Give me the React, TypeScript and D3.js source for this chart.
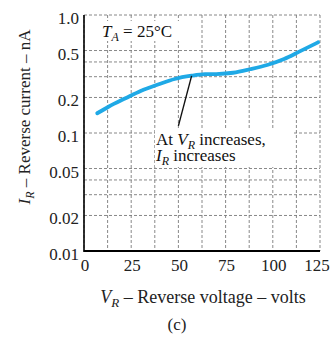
import React from "react";
import * as d3 from "d3";

// reverse voltage (V) vs reverse current (nA)
const voltage = [7, 13, 22, 30, 40, 48, 57, 64, 70, 79, 88, 97, 106, 114, 124];
const current = [0.147, 0.167, 0.197, 0.227, 0.26, 0.287, 0.306, 0.315, 0.316, 0.324, 0.347, 0.377, 0.424, 0.489, 0.587];

const xTicks = [0, 25, 50, 75, 100, 125];
const xGrid = [0, 12.5, 25, 37.5, 50, 62.5, 75, 87.5, 100, 112.5, 125];
const yTicks = [1, 0.5, 0.2, 0.1, 0.05, 0.02, 0.01];
const yTickLabels = ["1.0", "0.5", "0.2", "0.1", "0.05", "0.02", "0.01"];
const yGrid = [1, 0.5, 0.4, 0.3, 0.2, 0.1, 0.05, 0.04, 0.03, 0.02];

// leader line of the note: from the curve down to the text
const noteFrom = [57, 0.305];
const noteTo = [50, 0.115];

const W = 332;
const H = 338;
const FONT = "'Liberation Serif', 'Times New Roman', serif";

export default function App() {
  const x = d3.scaleLinear().domain([0, 125]).range([84, 320]);
  const y = d3.scaleLog().domain([0.01, 1]).range([251, 15]);

  const pts = voltage.map((v, i) => [v, current[i]] as [number, number]);
  const line = d3
    .line<[number, number]>()
    .x((d) => x(d[0]))
    .y((d) => y(d[1]))
    .curve(d3.curveMonotoneX);

  const grid = "#7a7a7a";

  return (
    <svg
      width={W}
      height={H}
      style={{ position: "absolute", left: 0, top: 0, background: "#fff" }}
      fontFamily={FONT}
    >
      {/* grid */}
      <g stroke={grid} strokeWidth={0.9} strokeDasharray="3,2">
        {xGrid.map((v) => (
          <line key={"gx" + v} x1={x(v)} x2={x(v)} y1={y(1)} y2={y(0.01)} />
        ))}
        {yGrid.map((v) => (
          <line key={"gy" + v} x1={x(0)} x2={x(125)} y1={y(v)} y2={y(v)} />
        ))}
      </g>

      {/* white boxes behind notes */}
      <rect x={100} y={21} width={82} height={20} fill="#fff" />
      <rect x={155} y={128} width={139} height={39} fill="#fff" />

      {/* axes */}
      <line x1={x(0)} x2={x(0)} y1={y(1)} y2={y(0.01) + 1} stroke="#000" strokeWidth={1.6} />
      <line x1={x(0)} x2={x(125)} y1={y(0.01)} y2={y(0.01)} stroke="#000" strokeWidth={2} />

      {/* curve */}
      <path d={line(pts) ?? ""} fill="none" stroke="#1FA9E6" strokeWidth={3.8} strokeLinecap="round" />

      {/* leader line */}
      <line
        x1={x(noteFrom[0])}
        y1={y(noteFrom[1])}
        x2={x(noteTo[0])}
        y2={y(noteTo[1])}
        stroke="#111"
        strokeWidth={1.4}
      />

      {/* tick labels */}
      <g fontSize={17} fill="#222">
        {yTicks.map((v, i) => (
          <text key={"yt" + v} x={79} y={y(v) + 9} textAnchor="end">
            {yTickLabels[i]}
          </text>
        ))}
        {xTicks.map((v) => (
          <text key={"xt" + v} x={Math.min(x(v) + 1, 317)} y={271} textAnchor="middle">
            {v}
          </text>
        ))}
      </g>

      {/* notes */}
      <text x={102} y={37} fontSize={17} fill="#111">
        <tspan fontStyle="italic">T</tspan>
        <tspan fontStyle="italic" fontSize={12} dy={4}>A</tspan>
        <tspan dy={-4}> = 25°C</tspan>
      </text>
      <text x={156} y={145} fontSize={17} fill="#111">
        At <tspan fontStyle="italic">V</tspan>
        <tspan fontStyle="italic" fontSize={12} dy={4}>R</tspan>
        <tspan dy={-4}> increases,</tspan>
      </text>
      <text x={156} y={161} fontSize={17} fill="#111">
        <tspan fontStyle="italic">I</tspan>
        <tspan fontStyle="italic" fontSize={12} dy={4}>R</tspan>
        <tspan dy={-4}> increases</tspan>
      </text>

      {/* axis titles */}
      <text
        transform="translate(30,117) rotate(-90)"
        textAnchor="middle"
        fontSize={17}
        fill="#222"
      >
        <tspan fontStyle="italic">I</tspan>
        <tspan fontStyle="italic" fontSize={12} dy={4}>R</tspan>
        <tspan dy={-4}> – Reverse current – nA</tspan>
      </text>
      <text x={203} y={303} textAnchor="middle" fontSize={18} fill="#222">
        <tspan fontStyle="italic">V</tspan>
        <tspan fontStyle="italic" fontSize={13} dy={4}>R</tspan>
        <tspan dy={-4}> – Reverse voltage – volts</tspan>
      </text>
      <text x={177} y={330} textAnchor="middle" fontSize={17} fill="#222">
        (c)
      </text>
    </svg>
  );
}
